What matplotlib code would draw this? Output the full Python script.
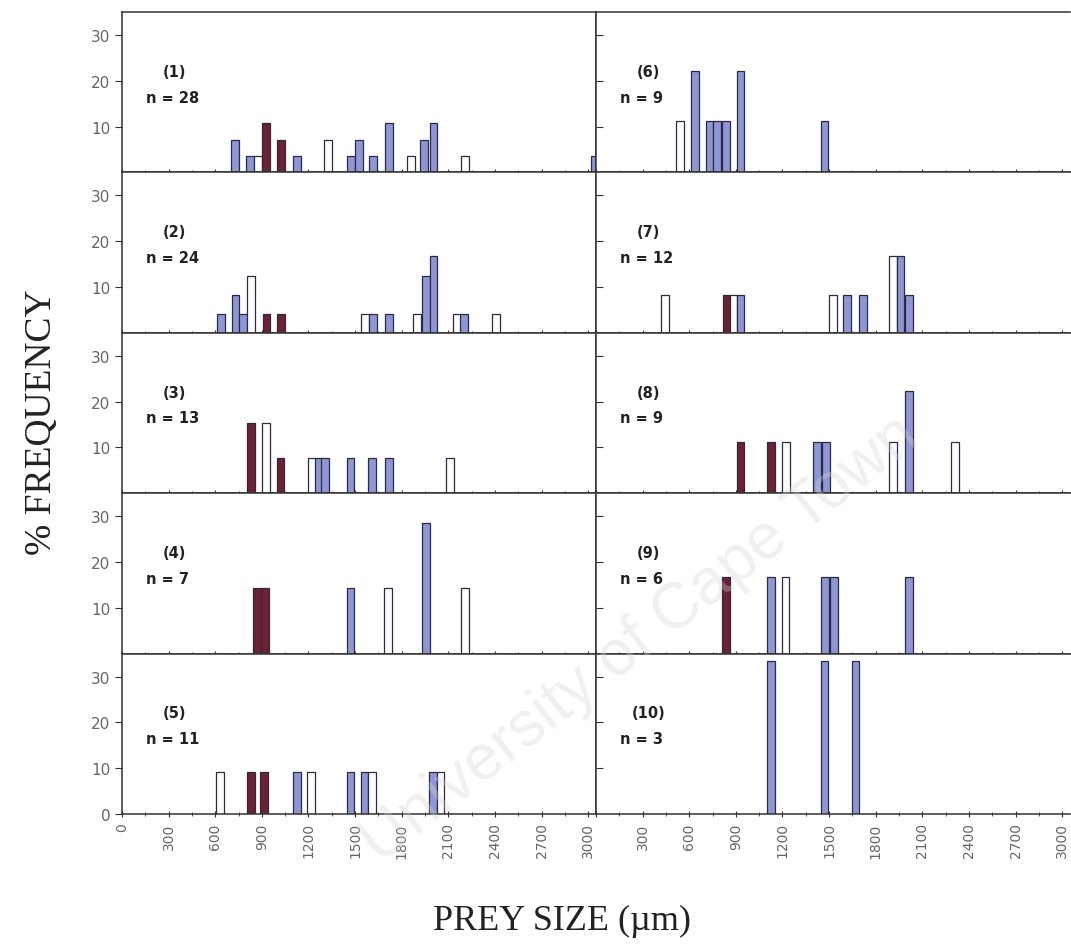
import numpy as np
import matplotlib
matplotlib.use("Agg")
import matplotlib.pyplot as plt

# prey size (bar centre, um), count of prey, and bar kind: m = maroon, b = blue, w = white
n_values = [28, 24, 13, 7, 11, 9, 12, 9, 6, 3]

size_1 = [725, 825, 875, 925, 1025, 1125, 1325, 1475, 1525, 1615, 1720, 1860, 1945, 2005, 2205, 3040]
count_1 = [2, 1, 1, 3, 2, 1, 2, 1, 2, 1, 3, 1, 2, 3, 1, 1]
kind_1 = "bbwmmbwbbbbwbbwb"

size_2 = [635, 730, 780, 830, 930, 1025, 1565, 1615, 1720, 1900, 1955, 2005, 2155, 2200, 2405]
count_2 = [1, 2, 1, 3, 1, 1, 1, 1, 1, 1, 3, 4, 1, 1, 1]
kind_2 = "bbbwmmwbbwbbwbw"

size_3 = [830, 925, 1020, 1225, 1265, 1305, 1470, 1610, 1720, 2110]
count_3 = [2, 2, 1, 1, 1, 1, 1, 1, 1, 1]
kind_3 = "mwmwbbbbbw"

size_4 = [870, 920, 1470, 1710, 1955, 2205]
count_4 = [1, 1, 1, 1, 2, 1]
kind_4 = "mmbwbw"

size_5 = [630, 830, 915, 1125, 1215, 1470, 1560, 1610, 2000, 2050]
count_5 = [1, 1, 1, 1, 1, 1, 1, 1, 1, 1]
kind_5 = "wmmbwbbwbw"

size_6 = [540, 635, 730, 780, 835, 930, 1470]
count_6 = [1, 2, 1, 1, 1, 2, 1]
kind_6 = "wbbbbbb"

size_7 = [445, 840, 885, 930, 1525, 1615, 1720, 1910, 1960, 2015]
count_7 = [1, 1, 1, 1, 1, 1, 1, 2, 2, 1]
kind_7 = "wmwbwbbwbb"

size_8 = [930, 1125, 1225, 1420, 1480, 1910, 2015, 2310]
count_8 = [1, 1, 1, 1, 1, 1, 2, 1]
kind_8 = "mmwbbwbw"

size_9 = [835, 1125, 1220, 1475, 1530, 2015]
count_9 = [1, 1, 1, 1, 1, 1]
kind_9 = "mbwbbb"

size_10 = [1125, 1470, 1670]
count_10 = [1, 1, 1]
kind_10 = "bbb"

sizes = [size_1, size_2, size_3, size_4, size_5, size_6, size_7, size_8, size_9, size_10]
counts = [count_1, count_2, count_3, count_4, count_5, count_6, count_7, count_8, count_9, count_10]
kinds = [kind_1, kind_2, kind_3, kind_4, kind_5, kind_6, kind_7, kind_8, kind_9, kind_10]

fills = {"m": "#6d2231", "b": "#8e97d3", "w": "#ffffff"}
edge = "#2a2a45"
axcol = "#333333"
tickcol = "#666666"

fig = plt.figure(figsize=(10.71, 9.53), dpi=100)
W, H = 1071.0, 953.0
col_x = [122 / W, 596 / W]
col_w = 474 / W
row_h = 160.4 / H
top = 13

for k in range(10):
    c = k // 5
    r = k % 5
    y0 = 1 - (top + (r + 1) * 160.4) / H
    ax = fig.add_axes([col_x[c], y0, col_w, row_h])
    pct = np.array(counts[k]) / n_values[k] * 100
    for s, p, t in zip(sizes[k], pct, kinds[k]):
        ax.bar(s, p, width=50, color=fills[t], edgecolor=edge, linewidth=0.9, zorder=2)
    ax.set_xlim(0, 3050)
    ax.set_ylim(0, 35)

    ax.text(0.11, 0.63, "(%d)" % (k + 1), transform=ax.transAxes, fontsize=10.5,
            fontweight="bold", ha="center", va="center", color="#222222")
    ax.text(0.05, 0.47, "n = %d" % n_values[k], transform=ax.transAxes, fontsize=10.5,
            fontweight="bold", ha="left", va="center", color="#222222")

    for sp in ax.spines.values():
        sp.set_color(axcol)
        sp.set_linewidth(1.1)
    if c == 1:
        ax.spines["right"].set_visible(False)

    ax.set_xticks(np.arange(0, 3001, 300))
    ax.set_xticks(np.arange(0, 3001, 150), minor=True)
    ax.tick_params(axis="x", which="both", direction="inout", colors=axcol,
                   labelcolor=tickcol, labelsize=10, length=5)
    ax.tick_params(axis="x", which="minor", length=3)
    if r == 4:
        if c == 0:
            ax.set_xticklabels([str(v) for v in range(0, 3001, 300)], rotation=90)
        else:
            ax.set_xticklabels([""] + [str(v) for v in range(300, 3001, 300)], rotation=90)
    else:
        ax.set_xticklabels([])

    if c == 0:
        if r == 4:
            ax.set_yticks([0, 10, 20, 30])
        else:
            ax.set_yticks([10, 20, 30])
        ax.tick_params(axis="y", direction="out", length=5, colors=axcol,
                       labelcolor=tickcol, labelsize=11)
    else:
        ax.set_yticks([10, 20, 30])
        ax.set_yticklabels([])
        ax.tick_params(axis="y", direction="in", length=5, colors=axcol)

fig.text(562 / W, 1 - 921 / H, "PREY SIZE (\u00b5m)", family="Liberation Serif",
         fontsize=26, ha="center", va="center", color="#222222")
fig.text(42 / W, 1 - 422 / H, "% FREQUENCY", family="Liberation Serif",
         fontsize=27, rotation=90, ha="center", va="center", color="#222222")

# faint watermark from the scan
fig.text(640 / W, 1 - 640 / H, "University of Cape Town", family="Liberation Sans",
         fontsize=46, rotation=38, ha="center", va="center", rotation_mode="anchor",
         color="#d4d4d4", alpha=0.35, zorder=10)

fig.savefig("out.png", dpi=100)
